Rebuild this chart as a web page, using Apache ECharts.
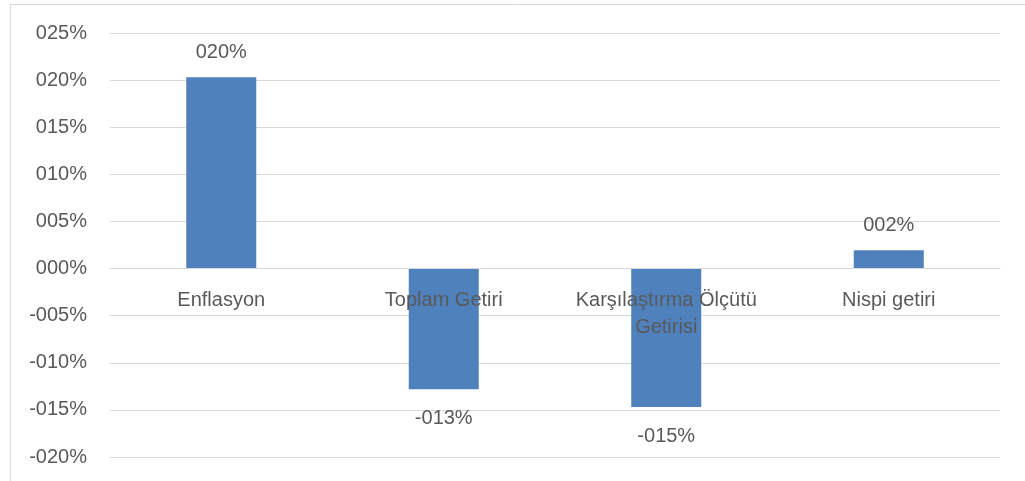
<!DOCTYPE html>
<html>
<head>
<meta charset="utf-8">
<script src="https://cdn.jsdelivr.net/npm/echarts@6/dist/echarts.min.js"></script>
<style>
html,body{margin:0;padding:0;background:#fff;}
#chart{width:1025px;height:481px;}
</style>
</head>
<body>
<div id="chart"></div>
<script>
var categories = ['Enflasyon', 'Toplam Getiri', 'Karşılaştırma Ölçütü\nGetirisi', 'Nispi getiri'];
var values = [20.3, -12.8, -14.7, 1.95];
var yMin = -20, yMax = 25, yStep = 5;

function pct(v) {
  var r = Math.round(v);
  var s = String(Math.abs(r));
  while (s.length < 3) s = '0' + s;
  return (r < 0 ? '-' : '') + s + '%';
}

var FONT = '"Liberation Sans", Arial, sans-serif';
var TXT = '#595959';
var W = 1025, H = 481;
var gridTop = 33, gridBottom = 24;
// shift the category axis from the bottom edge up to the zero line
var zeroOffset = -(H - gridTop - gridBottom) * (0 - yMin) / (yMax - yMin);

var chart = echarts.init(document.getElementById('chart'), null, {renderer: 'canvas'});
chart.setOption({
  animation: false,
  backgroundColor: '#ffffff',
  textStyle: {fontFamily: FONT},
  graphic: [{
    type: 'rect', silent: true, z: -10,
    shape: {x: 10.5, y: 4.5, width: 1100, height: 600},
    style: {fill: 'none', stroke: '#d9d9d9', lineWidth: 1}
  }],
  grid: {left: 110, right: 25, top: gridTop, bottom: gridBottom, containLabel: false, outerBoundsMode: 'none'},
  xAxis: {
    type: 'category',
    data: categories,
    z: 5,
    position: 'bottom',
    offset: zeroOffset,
    axisLine: {show: true, onZero: false, lineStyle: {color: '#d9d9d9', width: 1}},
    axisTick: {show: false},
    axisLabel: {
      interval: 0, margin: 18, color: TXT, fontSize: 20, lineHeight: 27, fontFamily: FONT
    },
    splitLine: {show: false}
  },
  yAxis: {
    type: 'value',
    min: yMin, max: yMax, interval: yStep,
    axisLine: {show: false},
    axisTick: {show: false},
    axisLabel: {color: TXT, fontSize: 20, margin: 23, fontFamily: FONT, formatter: pct},
    splitLine: {lineStyle: {color: '#d9d9d9', width: 1}}
  },
  series: [{
    type: 'bar',
    barWidth: 70,
    itemStyle: {color: '#4F81BD'},
    data: values.map(function (v) {
      return {
        value: v,
        label: {position: v < 0 ? 'bottom' : 'top', distance: v < 0 ? 19 : 15}
      };
    }),
    label: {
      show: true, color: TXT, fontSize: 20, fontFamily: FONT,
      formatter: function (p) { return pct(p.value); }
    }
  }]
});
</script>
</body>
</html>
